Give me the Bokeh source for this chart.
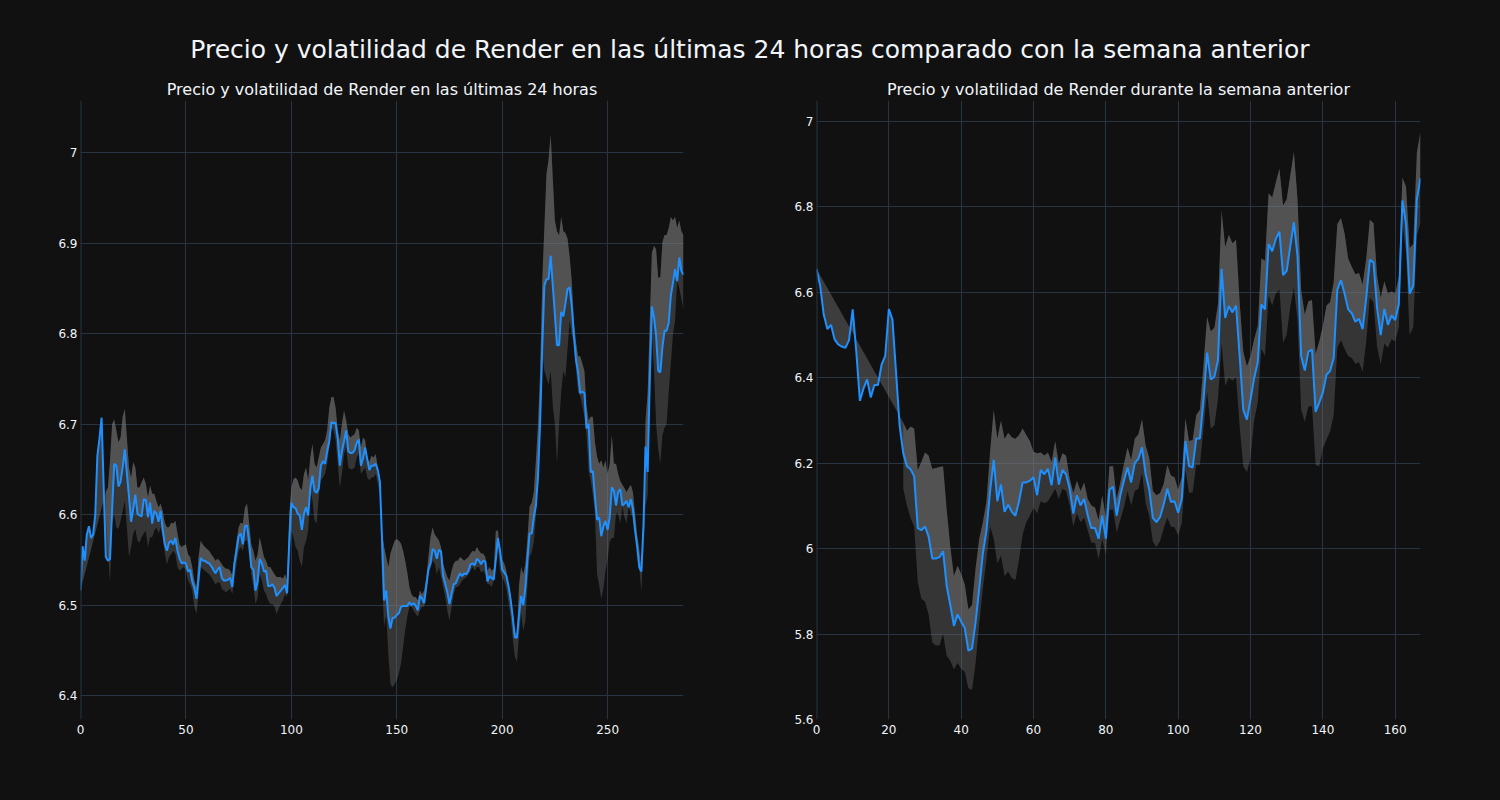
import re
from bokeh.plotting import figure
from bokeh.layouts import column, row
from bokeh.models import Div, FixedTicker, CustomJSTickFormatter, Range1d, Span
from bokeh.embed import file_html
from bokeh.resources import INLINE

# ---------------- data ----------------
main_title = "Precio y volatilidad de Render en las últimas 24 horas comparado con la semana anterior"
left_title = "Precio y volatilidad de Render en las últimas 24 horas"
right_title = "Precio y volatilidad de Render durante la semana anterior"

left_price = [
    6.516, 6.565, 6.549, 6.578, 6.587, 6.574, 6.578, 6.600, 6.665, 6.684,
    6.707, 6.630, 6.553, 6.549, 6.551, 6.606, 6.656, 6.654, 6.631, 6.636,
    6.652, 6.672, 6.645, 6.620, 6.592, 6.606, 6.622, 6.601, 6.599, 6.598,
    6.617, 6.616, 6.597, 6.613, 6.590, 6.604, 6.601, 6.592, 6.604, 6.583,
    6.567, 6.560, 6.569, 6.571, 6.567, 6.574, 6.560, 6.551, 6.546, 6.547,
    6.546, 6.537, 6.539, 6.526, 6.519, 6.507, 6.530, 6.552, 6.549, 6.549,
    6.547, 6.546, 6.543, 6.539, 6.535, 6.539, 6.542, 6.530, 6.527, 6.527,
    6.528, 6.530, 6.520, 6.546, 6.560, 6.576, 6.579, 6.567, 6.587, 6.588,
    6.569, 6.542, 6.539, 6.516, 6.526, 6.551, 6.546, 6.537, 6.538, 6.521,
    6.521, 6.523, 6.519, 6.510, 6.513, 6.516, 6.519, 6.522, 6.513, 6.569,
    6.613, 6.608, 6.607, 6.601, 6.599, 6.583, 6.601, 6.608, 6.599, 6.629,
    6.643, 6.626, 6.624, 6.629, 6.654, 6.659, 6.656, 6.670, 6.681, 6.702,
    6.701, 6.701, 6.684, 6.654, 6.670, 6.681, 6.693, 6.670, 6.668, 6.668,
    6.671, 6.679, 6.683, 6.654, 6.662, 6.674, 6.661, 6.649, 6.654, 6.654,
    6.656, 6.649, 6.636, 6.574, 6.505, 6.516, 6.487, 6.474, 6.486, 6.486,
    6.489, 6.491, 6.498, 6.499, 6.499, 6.499, 6.503, 6.500, 6.502, 6.499,
    6.494, 6.510, 6.507, 6.502, 6.521, 6.539, 6.546, 6.562, 6.560, 6.551,
    6.561, 6.559, 6.532, 6.523, 6.514, 6.501, 6.512, 6.523, 6.524, 6.530,
    6.535, 6.532, 6.535, 6.534, 6.538, 6.545, 6.546, 6.544, 6.551, 6.549,
    6.545, 6.549, 6.548, 6.526, 6.532, 6.530, 6.528, 6.551, 6.574, 6.560,
    6.539, 6.536, 6.532, 6.521, 6.506, 6.487, 6.464, 6.464, 6.489, 6.510,
    6.500, 6.519, 6.551, 6.579, 6.579, 6.597, 6.610, 6.642, 6.702, 6.785,
    6.853, 6.860, 6.860, 6.886, 6.853, 6.821, 6.787, 6.787, 6.824, 6.819,
    6.833, 6.849, 6.851, 6.830, 6.798, 6.771, 6.757, 6.734, 6.736, 6.734,
    6.695, 6.700, 6.647, 6.648, 6.620, 6.594, 6.597, 6.576, 6.587, 6.593,
    6.583, 6.597, 6.630, 6.626, 6.610, 6.625, 6.628, 6.610, 6.612, 6.615,
    6.608, 6.617, 6.606, 6.583, 6.565, 6.542, 6.537, 6.587, 6.675, 6.647,
    6.748, 6.830, 6.818, 6.798, 6.759, 6.757, 6.785, 6.803, 6.803, 6.812,
    6.842, 6.856, 6.871, 6.858, 6.884, 6.869, 6.865,
]
left_band_start = 12
left_upper = [
    6.625, 6.630, 6.660, 6.700, 6.705, 6.693, 6.680, 6.685, 6.708, 6.717,
    6.685, 6.652, 6.641, 6.658, 6.652, 6.630, 6.630, 6.636, 6.641, 6.634,
    6.619, 6.632, 6.623, 6.623, 6.615, 6.608, 6.612, 6.604, 6.591, 6.586,
    6.586, 6.591, 6.590, 6.593, 6.579, 6.567, 6.564, 6.566, 6.567, 6.556,
    6.553, 6.542, 6.527, 6.520, 6.553, 6.571, 6.567, 6.564, 6.562, 6.560,
    6.556, 6.553, 6.549, 6.551, 6.549, 6.545, 6.542, 6.540, 6.540, 6.538,
    6.533, 6.553, 6.571, 6.586, 6.591, 6.590, 6.608, 6.612, 6.590, 6.567,
    6.560, 6.549, 6.556, 6.575, 6.564, 6.553, 6.549, 6.542, 6.542, 6.538,
    6.534, 6.531, 6.531, 6.531, 6.529, 6.534, 6.527, 6.600, 6.630, 6.639,
    6.641, 6.638, 6.630, 6.627, 6.645, 6.652, 6.638, 6.663, 6.678, 6.656,
    6.652, 6.663, 6.674, 6.678, 6.682, 6.693, 6.718, 6.730, 6.730, 6.718,
    6.693, 6.682, 6.700, 6.715, 6.704, 6.689, 6.685, 6.687, 6.689, 6.696,
    6.693, 6.674, 6.685, 6.682, 6.663, 6.658, 6.665, 6.663, 6.667, 6.652,
    6.641, 6.582, 6.564, 6.553, 6.542, 6.557, 6.564, 6.571, 6.573, 6.571,
    6.568, 6.560, 6.549, 6.536, 6.520, 6.512, 6.509, 6.509, 6.505, 6.516,
    6.512, 6.516, 6.530, 6.553, 6.575, 6.586, 6.578, 6.575, 6.571, 6.564,
    6.546, 6.538, 6.531, 6.527, 6.538, 6.546, 6.549, 6.549, 6.553, 6.551,
    6.549, 6.551, 6.553, 6.557, 6.560, 6.559, 6.564, 6.560, 6.557, 6.557,
    6.553, 6.538, 6.542, 6.538, 6.540, 6.582, 6.582, 6.558, 6.550, 6.546,
    6.538, 6.522, 6.511, 6.491, 6.471, 6.467, 6.522, 6.542, 6.534, 6.546,
    6.574, 6.609, 6.613, 6.625, 6.660, 6.700, 6.759, 6.858, 6.917, 6.976,
    6.992, 7.020, 6.972, 6.925, 6.913, 6.909, 6.929, 6.913, 6.911, 6.905,
    6.885, 6.858, 6.814, 6.791, 6.775, 6.775, 6.767, 6.759, 6.720, 6.704,
    6.708, 6.708, 6.680, 6.664, 6.656, 6.660, 6.652, 6.660, 6.645, 6.656,
    6.688, 6.656, 6.656, 6.645, 6.637, 6.633, 6.629, 6.625, 6.629, 6.633,
    6.625, 6.601, 6.578, 6.562, 6.538, 6.601, 6.704, 6.735, 6.814, 6.889,
    6.897, 6.893, 6.862, 6.862, 6.901, 6.909, 6.909, 6.917, 6.929, 6.925,
    6.929, 6.917, 6.925, 6.913, 6.909,
]
left_lower = [
    6.600, 6.560, 6.525, 6.590, 6.600, 6.586, 6.584, 6.593, 6.604, 6.615,
    6.586, 6.553, 6.564, 6.579, 6.584, 6.571, 6.569, 6.575, 6.579, 6.582,
    6.564, 6.575, 6.575, 6.582, 6.586, 6.579, 6.586, 6.575, 6.556, 6.545,
    6.553, 6.556, 6.560, 6.556, 6.542, 6.538, 6.540, 6.542, 6.538, 6.527,
    6.523, 6.516, 6.498, 6.490, 6.512, 6.542, 6.540, 6.538, 6.536, 6.534,
    6.531, 6.527, 6.523, 6.525, 6.525, 6.518, 6.516, 6.514, 6.516, 6.518,
    6.512, 6.531, 6.545, 6.560, 6.564, 6.560, 6.571, 6.571, 6.553, 6.534,
    6.520, 6.501, 6.508, 6.534, 6.527, 6.516, 6.512, 6.505, 6.501, 6.501,
    6.498, 6.490, 6.496, 6.501, 6.505, 6.512, 6.509, 6.540, 6.582, 6.575,
    6.564, 6.560, 6.549, 6.542, 6.564, 6.571, 6.582, 6.627, 6.616, 6.593,
    6.590, 6.619, 6.638, 6.641, 6.645, 6.656, 6.674, 6.696, 6.693, 6.682,
    6.656, 6.630, 6.645, 6.667, 6.674, 6.652, 6.650, 6.650, 6.652, 6.663,
    6.667, 6.645, 6.648, 6.652, 6.641, 6.638, 6.641, 6.641, 6.645, 6.634,
    6.623, 6.527, 6.476, 6.490, 6.446, 6.413, 6.409, 6.413, 6.417, 6.424,
    6.435, 6.453, 6.472, 6.487, 6.498, 6.498, 6.494, 6.490, 6.487, 6.494,
    6.498, 6.498, 6.512, 6.534, 6.542, 6.549, 6.546, 6.534, 6.542, 6.531,
    6.520, 6.509, 6.494, 6.483, 6.498, 6.512, 6.520, 6.520, 6.523, 6.527,
    6.529, 6.531, 6.534, 6.538, 6.542, 6.538, 6.542, 6.542, 6.536, 6.538,
    6.534, 6.523, 6.523, 6.520, 6.527, 6.562, 6.562, 6.538, 6.530, 6.526,
    6.518, 6.503, 6.487, 6.463, 6.443, 6.437, 6.467, 6.491, 6.471, 6.483,
    6.522, 6.554, 6.558, 6.570, 6.597, 6.641, 6.700, 6.779, 6.759, 6.751,
    6.743, 6.759, 6.720, 6.700, 6.656, 6.700, 6.735, 6.759, 6.751, 6.783,
    6.814, 6.799, 6.791, 6.759, 6.735, 6.731, 6.720, 6.708, 6.688, 6.649,
    6.637, 6.621, 6.601, 6.534, 6.522, 6.507, 6.518, 6.538, 6.550, 6.570,
    6.574, 6.574, 6.601, 6.601, 6.590, 6.609, 6.597, 6.590, 6.609, 6.601,
    6.597, 6.582, 6.562, 6.542, 6.515, 6.562, 6.609, 6.621, 6.720, 6.799,
    6.759, 6.700, 6.672, 6.656, 6.688, 6.696, 6.700, 6.735, 6.767, 6.799,
    6.814, 6.858, 6.850, 6.838, 6.826,
]

right_price = [
    6.655, 6.616, 6.548, 6.514, 6.524, 6.490, 6.478, 6.473, 6.470, 6.488,
    6.560, 6.461, 6.346, 6.375, 6.396, 6.354, 6.383, 6.383, 6.431, 6.451,
    6.561, 6.536, 6.412, 6.286, 6.223, 6.193, 6.186, 6.169, 6.048, 6.043,
    6.052, 6.028, 5.977, 5.977, 5.980, 5.994, 5.912, 5.868, 5.819, 5.846,
    5.829, 5.814, 5.761, 5.766, 5.829, 5.907, 5.989, 6.043, 6.135, 6.208,
    6.111, 6.150, 6.086, 6.103, 6.086, 6.077, 6.111, 6.155, 6.155, 6.159,
    6.167, 6.125, 6.184, 6.174, 6.187, 6.148, 6.213, 6.150, 6.184, 6.174,
    6.140, 6.082, 6.125, 6.101, 6.116, 6.077, 6.048, 6.048, 6.023, 6.077,
    6.023, 6.138, 6.145, 6.077, 6.125, 6.159, 6.190, 6.155, 6.200, 6.210,
    6.237, 6.174, 6.138, 6.072, 6.062, 6.074, 6.104, 6.140, 6.109, 6.111,
    6.084, 6.116, 6.252, 6.193, 6.190, 6.258, 6.258, 6.349, 6.459, 6.396,
    6.402, 6.441, 6.655, 6.540, 6.568, 6.553, 6.569, 6.451, 6.325, 6.302,
    6.349, 6.399, 6.436, 6.572, 6.560, 6.713, 6.696, 6.725, 6.742, 6.640,
    6.650, 6.708, 6.764, 6.684, 6.451, 6.417, 6.461, 6.466, 6.320, 6.342,
    6.365, 6.407, 6.416, 6.446, 6.606, 6.628, 6.597, 6.560, 6.551, 6.531,
    6.538, 6.514, 6.587, 6.676, 6.670, 6.563, 6.500, 6.561, 6.524, 6.546,
    6.535, 6.572, 6.815, 6.760, 6.597, 6.616, 6.818, 6.867,
]
right_band_start = 24
right_upper = [
    6.295, 6.276, 6.286, 6.281, 6.184, 6.203, 6.225, 6.218, 6.187, 6.189,
    6.191, 6.193, 6.091, 6.004, 5.936, 5.960, 5.941, 5.916, 5.858, 5.868,
    5.955, 6.023, 6.062, 6.111, 6.227, 6.325, 6.257, 6.300, 6.257, 6.271,
    6.261, 6.257, 6.266, 6.281, 6.266, 6.252, 6.227, 6.223, 6.225, 6.218,
    6.225, 6.203, 6.252, 6.198, 6.223, 6.218, 6.164, 6.130, 6.159, 6.135,
    6.155, 6.116, 6.101, 6.096, 6.067, 6.125, 6.072, 6.193, 6.193, 6.116,
    6.155, 6.198, 6.237, 6.208, 6.257, 6.268, 6.303, 6.242, 6.213, 6.135,
    6.125, 6.130, 6.152, 6.196, 6.171, 6.167, 6.138, 6.167, 6.305, 6.252,
    6.254, 6.313, 6.325, 6.431, 6.543, 6.509, 6.517, 6.572, 6.791, 6.706,
    6.735, 6.715, 6.723, 6.577, 6.461, 6.427, 6.451, 6.490, 6.521, 6.679,
    6.674, 6.832, 6.822, 6.857, 6.890, 6.803, 6.818, 6.874, 6.929, 6.818,
    6.606, 6.548, 6.579, 6.582, 6.456, 6.485, 6.521, 6.569, 6.577, 6.624,
    6.760, 6.774, 6.738, 6.679, 6.660, 6.642, 6.645, 6.618, 6.679, 6.770,
    6.762, 6.638, 6.587, 6.626, 6.597, 6.602, 6.597, 6.636, 6.869, 6.847,
    6.704, 6.713, 6.927, 6.976,
]
right_lower = [
    6.140, 6.101, 6.072, 6.052, 5.921, 5.882, 5.876, 5.846, 5.780, 5.773,
    5.773, 5.800, 5.749, 5.737, 5.717, 5.732, 5.719, 5.712, 5.673, 5.669,
    5.732, 5.824, 5.907, 5.975, 6.052, 6.023, 5.965, 5.984, 5.936, 5.946,
    5.931, 5.926, 5.975, 6.033, 6.062, 6.077, 6.096, 6.082, 6.111, 6.106,
    6.111, 6.125, 6.140, 6.116, 6.140, 6.135, 6.101, 6.052, 6.082, 6.062,
    6.072, 6.043, 6.014, 6.014, 5.975, 6.023, 5.984, 6.091, 6.091, 6.038,
    6.067, 6.096, 6.135, 6.101, 6.135, 6.140, 6.177, 6.106, 6.077, 6.016,
    6.004, 6.018, 6.047, 6.072, 6.052, 6.050, 6.031, 6.060, 6.184, 6.130,
    6.132, 6.196, 6.195, 6.281, 6.368, 6.281, 6.288, 6.349, 6.480, 6.381,
    6.400, 6.393, 6.402, 6.286, 6.193, 6.179, 6.213, 6.300, 6.342, 6.468,
    6.451, 6.592, 6.569, 6.597, 6.606, 6.482, 6.501, 6.566, 6.611, 6.534,
    6.325, 6.297, 6.332, 6.334, 6.196, 6.193, 6.235, 6.255, 6.274, 6.313,
    6.470, 6.488, 6.468, 6.451, 6.446, 6.433, 6.436, 6.414, 6.485, 6.587,
    6.577, 6.472, 6.431, 6.480, 6.470, 6.490, 6.485, 6.519, 6.762, 6.692,
    6.500, 6.519, 6.733, 6.762,
]

left_xticks = [0, 50, 100, 150, 200, 250]
left_yticks = [6.4, 6.5, 6.6, 6.7, 6.8, 6.9, 7.0]
right_xticks = [0, 20, 40, 60, 80, 100, 120, 140, 160]
right_yticks = [5.6, 5.8, 6.0, 6.2, 6.4, 6.6, 6.8, 7.0]

assert len(left_upper) == len(left_price) - left_band_start
assert len(left_lower) == len(left_price) - left_band_start
assert len(right_upper) == len(right_price) - right_band_start
assert len(right_lower) == len(right_price) - right_band_start

# ---------------- styling ----------------
BG = "#111111"
GRID = "#283442"
TXT = "#f2f5fa"
LINE = "#1e90ff"
FILL = "#808080"
FONT = "DejaVu Sans"


def panel(title, price, start, upper, lower, xr, yr, xticks, yticks,
          border_left, border_right, frame_w):
    n = len(price)
    p = figure(frame_width=frame_w, frame_height=619,
               min_border_left=border_left, min_border_right=border_right,
               min_border_top=30, min_border_bottom=81,
               x_range=Range1d(*xr), y_range=Range1d(*yr),
               output_backend="svg", toolbar_location=None,
               background_fill_color=BG, border_fill_color=BG,
               outline_line_color=None, title=title)
    p.title.text_font = FONT
    p.title.text_font_size = "16px"
    p.title.text_font_style = "normal"
    p.title.text_color = TXT
    p.title.align = "center"
    p.title.standoff = 3

    xs = list(range(n))
    bx = list(range(start, n))
    # band between lower and upper
    p.varea(x=bx, y1=lower, y2=upper, fill_color=FILL, fill_alpha=0.33)
    # fill between price and upper band (closing back to the first price)
    poly_x = xs + bx[::-1]
    poly_y = list(price) + list(upper)[::-1]
    p.patch(poly_x, poly_y, fill_color=FILL, fill_alpha=0.40, line_color=None)
    # zero line of the x axis
    p.add_layout(Span(location=0, dimension="height", line_color=GRID,
                      line_width=2))
    p.line(xs, price, line_color=LINE, line_width=2)

    for ax in (p.xaxis[0], p.yaxis[0]):
        ax.axis_line_color = None
        ax.major_tick_line_color = None
        ax.minor_tick_line_color = None
        ax.major_tick_out = 0
        ax.major_tick_in = 0
        ax.minor_tick_out = 0
        ax.minor_tick_in = 0
        ax.major_label_text_color = TXT
        ax.major_label_text_font = FONT
        ax.major_label_text_font_size = "12px"
    p.xaxis[0].ticker = FixedTicker(ticks=xticks)
    p.yaxis[0].ticker = FixedTicker(ticks=yticks)
    p.xaxis[0].major_label_standoff = 5
    p.yaxis[0].major_label_standoff = 3
    p.yaxis[0].formatter = CustomJSTickFormatter(
        code="return String(Number(tick.toFixed(1)));")
    p.xgrid[0].ticker = FixedTicker(ticks=xticks)
    p.ygrid[0].ticker = FixedTicker(ticks=yticks)
    p.xgrid.grid_line_color = GRID
    p.ygrid.grid_line_color = GRID
    p.xgrid.grid_line_width = 1
    p.ygrid.grid_line_width = 1
    return p


p1 = panel(left_title, left_price, left_band_start, left_upper, left_lower,
           (0, 286), (6.3735, 7.0575), left_xticks, left_yticks, 80, 67, 603)
p2 = panel(right_title, right_price, right_band_start, right_upper, right_lower,
           (0, 167), (5.6, 7.049), right_xticks, right_yticks, 66, 80, 604)

head = Div(text=(
    '<div style="width:1500px;text-align:center;font-family:\'DejaVu Sans\';'
    'font-size:25px;color:%s;padding-top:34px;line-height:32px;white-space:nowrap;">%s</div>'
    % (TXT, main_title)), width=1500, height=70, margin=0,
    styles={"background-color": BG})

layout = column(head, row(p1, p2, styles={"background-color": BG}),
                styles={"background-color": BG})

html = file_html(layout, INLINE, title="Render")
html = re.sub(r"<body[^>]*>",
              '<body style="margin:0;background-color:#111111;overflow:hidden;">',
              html, count=1)
open("out.html", "w").write(html)
